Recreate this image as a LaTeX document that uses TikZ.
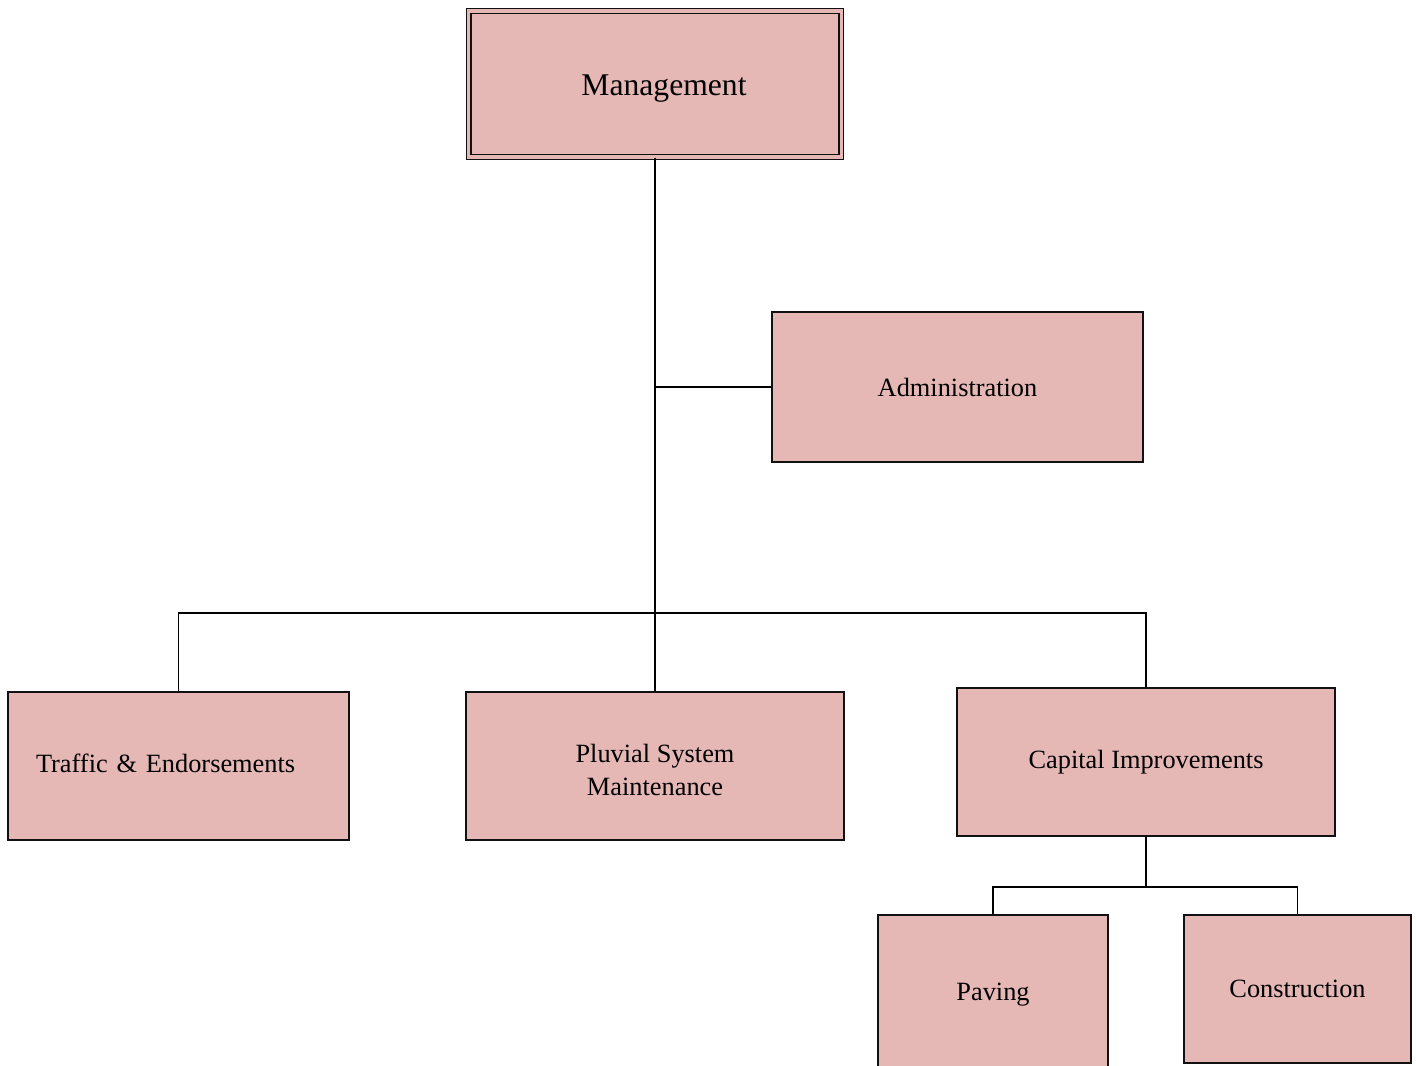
\documentclass[tikz,border=0pt]{standalone}
\usepackage{fontspec}
\setmainfont{Liberation Serif}
\usepackage{tikz}
\usetikzlibrary{positioning,calc}
\definecolor{unitBack}{HTML}{E5B8B5}
\definecolor{unitFrame}{HTML}{111111}

\begin{document}
\begin{tikzpicture}[x=0.02cm,y=-0.02cm,line width=0.8pt]
  \tikzstyle{unitBox}=[draw=unitFrame,fill=unitBack,align=center,inner sep=2pt,font=\fontsize{15}{19}\selectfont]
  \useasboundingbox (0,0) rectangle (1416,1065);
  \clip (0,0) rectangle (1416,1065);
  % top of the chart
  \node[unitBox,double=unitBack,double distance=1.8pt,minimum width=7.46cm,minimum height=2.92cm,text height=17pt,text depth=4pt,font=\fontsize{18}{22}\selectfont] (mgmt) at (655,84) {\hspace*{0.36cm}Management};
  \node[unitBox,minimum width=7.42cm,minimum height=3.0cm] (admin) at (957.5,387) {Administration};
  % second row
  \node[unitBox,minimum width=6.82cm,minimum height=2.96cm,text width=5.7cm,inner xsep=0.56cm,align=left] (traffic) at (178.5,766) {\raisebox{0.1cm}{Traffic \& Endorsements}};
  \node[unitBox,minimum width=7.56cm,minimum height=2.96cm] (pluvial) at (655,766) {\rule{0pt}{15pt}Pluvial System\\Maintenance};
  \node[unitBox,minimum width=7.56cm,minimum height=2.96cm] (capital) at (1146,762) {Capital Improvements};
  % under capital improvements
  \node[unitBox,minimum width=4.6cm,minimum height=3.2cm] (paving) at (993,995) {\raisebox{0.14cm}{Paving}};
  \node[unitBox,minimum width=4.54cm,minimum height=2.96cm] (constr) at (1297.5,989) {Construction};
  \coordinate (bus) at (655,613);
  \coordinate (split) at (1146,887);
  \draw (mgmt.south) -- (pluvial.north);
  \draw (admin.west) -- (admin.west -| mgmt.south);
  \draw (traffic.north) |- (bus) -| (capital.north);
  \draw (capital.south) -- (split);
  \draw (paving.north) |- (split) -| (constr.north);
\end{tikzpicture}
\end{document}
